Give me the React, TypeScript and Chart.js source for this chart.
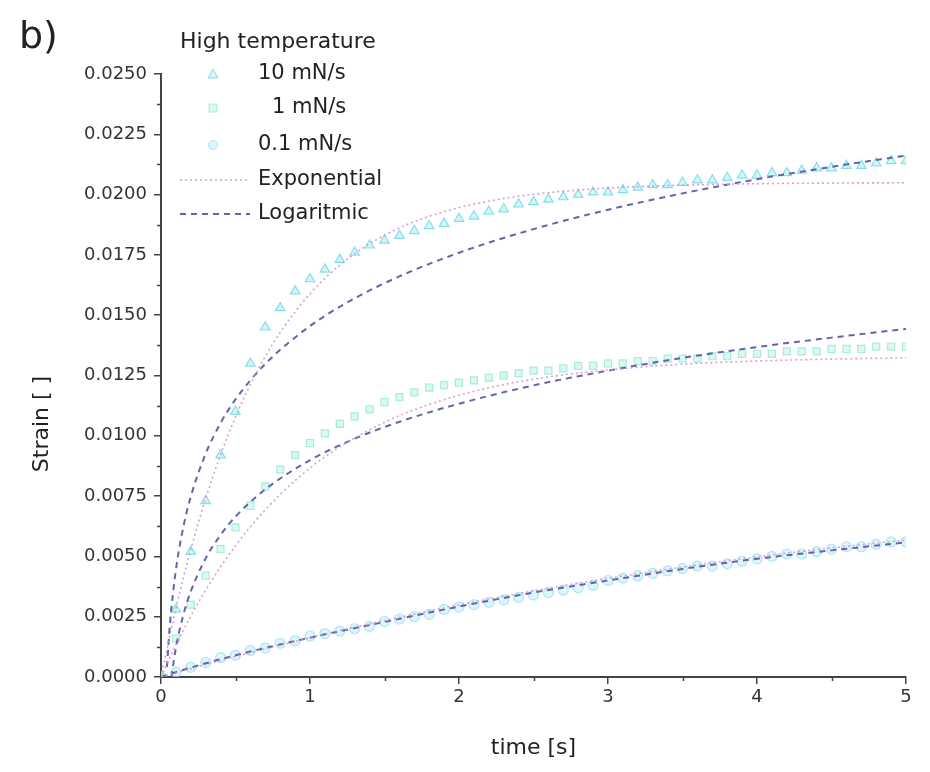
import React, { useEffect, useRef } from "react";
import { Chart, registerables } from "chart.js";

Chart.register(...registerables);

const FONT = "'DejaVu Sans', 'Liberation Sans', sans-serif";

// ---- measured data (time in s, strain) ----
const dataTime = [
  0, 0.1, 0.2, 0.3, 0.4, 0.5, 0.6, 0.7, 0.8, 0.9,
  1.0, 1.1, 1.2, 1.3, 1.4, 1.5, 1.6, 1.7, 1.8, 1.9,
  2.0, 2.1, 2.2, 2.3, 2.4, 2.5, 2.6, 2.7, 2.8, 2.9,
  3.0, 3.1, 3.2, 3.3, 3.4, 3.5, 3.6, 3.7, 3.8, 3.9,
  4.0, 4.1, 4.2, 4.3, 4.4, 4.5, 4.6, 4.7, 4.8, 4.9, 5.0,
];

const strain10 = [
  0.0, 0.0028, 0.0052, 0.0073, 0.0092, 0.011, 0.013, 0.0145, 0.0153, 0.016,
  0.0165, 0.0169, 0.0173, 0.0176, 0.0179, 0.0181, 0.0183, 0.0185, 0.0187, 0.0188,
  0.019, 0.0191, 0.0193, 0.0194, 0.0196, 0.0197, 0.0198, 0.0199, 0.02, 0.0201,
  0.0201, 0.0202, 0.0203, 0.0204, 0.0204, 0.0205, 0.0206, 0.0206, 0.0207, 0.0208,
  0.0208, 0.0209, 0.0209, 0.021, 0.0211, 0.0211, 0.0212, 0.0212, 0.0213, 0.0214, 0.0214,
];

const strain1 = [
  0.0, 0.0016, 0.003, 0.0042, 0.0053, 0.0062, 0.0071, 0.0079, 0.0086, 0.0092,
  0.0097, 0.0101, 0.0105, 0.0108, 0.0111, 0.0114, 0.0116, 0.0118, 0.012, 0.0121,
  0.0122, 0.0123, 0.0124, 0.0125, 0.0126, 0.0127, 0.0127, 0.0128, 0.0129, 0.0129,
  0.013, 0.013, 0.0131, 0.0131, 0.0132, 0.0132, 0.0132, 0.0133, 0.0133, 0.0134,
  0.0134, 0.0134, 0.0135, 0.0135, 0.0135, 0.0136, 0.0136, 0.0136, 0.0137, 0.0137, 0.0137,
];

const strain01 = [
  0.0, 0.0002, 0.0004, 0.0006, 0.0008, 0.0009, 0.0011, 0.0012, 0.0014, 0.0015,
  0.0017, 0.0018, 0.0019, 0.002, 0.0021, 0.0023, 0.0024, 0.0025, 0.0026, 0.0028,
  0.0029, 0.003, 0.0031, 0.0032, 0.0033, 0.0034, 0.0035, 0.0036, 0.0037, 0.0038,
  0.004, 0.0041, 0.0042, 0.0043, 0.0044, 0.0045, 0.0046, 0.0046, 0.0047, 0.0048,
  0.0049, 0.005, 0.0051, 0.0051, 0.0052, 0.0053, 0.0054, 0.0054, 0.0055, 0.0056, 0.0056,
];

// ---- exponential fits (dotted) ----
const expTopTime = [0, 0.1, 0.2, 0.3, 0.4, 0.5, 0.6, 0.7, 0.8, 1.0, 1.2, 1.4, 1.6, 1.8, 2.0, 2.3, 2.6, 3.0, 3.5, 4.0, 4.5, 5.0];
const expTop = [0, 0.00284, 0.00529, 0.0074, 0.00921, 0.01078, 0.01213, 0.01329, 0.01429, 0.01589, 0.01708, 0.01796, 0.01862, 0.0191, 0.01946, 0.01984, 0.02008, 0.02027, 0.02039, 0.02045, 0.02048, 0.02049];

const expMidTime = [0, 0.1, 0.2, 0.3, 0.4, 0.5, 0.6, 0.8, 1.0, 1.2, 1.5, 1.8, 2.2, 2.6, 3.0, 3.5, 4.0, 4.5, 5.0];
const expMid = [0, 0.00133, 0.00253, 0.0036, 0.00457, 0.00544, 0.00623, 0.00757, 0.00866, 0.00954, 0.01056, 0.0113, 0.01199, 0.01244, 0.01273, 0.01297, 0.0131, 0.01318, 0.01323];

const expLowTime = [0, 0.5, 1.0, 1.5, 2.0, 2.5, 3.0, 3.5, 4.0, 4.5, 5.0];
const expLow = [0, 0.00085, 0.00163, 0.00234, 0.00299, 0.00357, 0.00409, 0.00456, 0.00498, 0.00535, 0.00568];

// ---- logarithmic fits (dashed) ----
const logTopTime = [0.04, 0.06, 0.1, 0.15, 0.2, 0.3, 0.4, 0.5, 0.7, 1.0, 1.3, 1.6, 2.0, 2.5, 3.0, 3.5, 4.0, 4.5, 5.0];
const logTop = [0.00042, 0.0022, 0.00444, 0.00622, 0.00748, 0.00926, 0.01053, 0.01151, 0.01298, 0.01455, 0.0157, 0.01661, 0.01759, 0.01857, 0.01937, 0.02005, 0.02064, 0.02115, 0.02162];

const logMidTime = [0.07, 0.1, 0.15, 0.2, 0.3, 0.4, 0.5, 0.7, 1.0, 1.3, 1.6, 2.0, 2.5, 3.0, 3.5, 4.0, 4.5, 5.0];
const logMid = [0.0, 0.00121, 0.00258, 0.00355, 0.00492, 0.00589, 0.00665, 0.00778, 0.00899, 0.00988, 0.01058, 0.01133, 0.01209, 0.0127, 0.01323, 0.01368, 0.01407, 0.01443];

const logLowTime = [0, 0.1, 0.25, 0.5, 1.0, 1.5, 2.0, 2.5, 3.0, 3.5, 4.0, 4.5, 5.0];
const logLow = [0, 0.0002, 0.00048, 0.0009, 0.00163, 0.00228, 0.00292, 0.0035, 0.004, 0.00448, 0.0049, 0.00525, 0.00558];

// ---- axis ticks ----
const yMinorTicks = [0.00125, 0.00375, 0.00625, 0.00875, 0.01125, 0.01375, 0.01625, 0.01875, 0.02125, 0.02375];
const xMinorTicks = [0.5, 1.5, 2.5, 3.5, 4.5];

const legendTitle = "High temperature";
const seriesLabels = ["10 mN/s", "1 mN/s", "0.1 mN/s"];
const fitLabels = ["Exponential", "Logaritmic"];

const COL_10 = "rgba(90, 212, 226, 0.7)";
const COL_1 = "rgba(120, 226, 205, 0.6)";
const COL_01 = "rgba(130, 216, 240, 0.6)";
const FILL_10 = "rgba(170, 236, 244, 0.5)";
const FILL_1 = "rgba(185, 242, 228, 0.5)";
const FILL_01 = "rgba(190, 236, 248, 0.5)";
const COL_EXP = "rgba(212, 150, 205, 0.9)";
const COL_LOG = "rgba(92, 92, 168, 0.95)";
const AXIS = "#444";

const pts = (xs: number[], ys: number[]) => xs.map((x, i) => ({ x, y: ys[i] }));

const decorPlugin = {
  id: "decor",
  afterDraw(chart: any) {
    const { ctx, chartArea, scales } = chart;
    const xs = scales.x;
    const ys = scales.y;
    ctx.save();
    // minor ticks
    ctx.strokeStyle = AXIS;
    ctx.lineWidth = 1.5;
    for (const v of yMinorTicks) {
      const py = Math.round(ys.getPixelForValue(v)) + 0.5;
      ctx.beginPath();
      ctx.moveTo(chartArea.left - 4, py);
      ctx.lineTo(chartArea.left, py);
      ctx.stroke();
    }
    for (const v of xMinorTicks) {
      const px = Math.round(xs.getPixelForValue(v)) + 0.5;
      ctx.beginPath();
      ctx.moveTo(px, chartArea.bottom);
      ctx.lineTo(px, chartArea.bottom + 4);
      ctx.stroke();
    }

    // panel letter
    ctx.fillStyle = "#222";
    ctx.font = `38px ${FONT}`;
    ctx.textAlign = "left";
    ctx.textBaseline = "alphabetic";
    ctx.fillText("b)", 11, 40);

    // y axis title
    ctx.save();
    ctx.translate(34, 416);
    ctx.rotate(-Math.PI / 2);
    ctx.textAlign = "center";
    ctx.textBaseline = "middle";
    ctx.font = `22px ${FONT}`;
    ctx.fillStyle = "#222";
    ctx.fillText("Strain [ ]", 0, 0);
    ctx.restore();

    // legend
    ctx.textAlign = "left";
    ctx.textBaseline = "middle";
    ctx.fillStyle = "#222";
    ctx.font = `22px ${FONT}`;
    ctx.fillText(legendTitle, 172, 34);
    ctx.font = `21px ${FONT}`;

    const mx = 205;
    // triangle
    ctx.lineWidth = 1;
    ctx.strokeStyle = COL_10;
    ctx.fillStyle = FILL_10;
    ctx.beginPath();
    ctx.moveTo(mx, 66 - 5);
    ctx.lineTo(mx + 5, 66 + 4);
    ctx.lineTo(mx - 5, 66 + 4);
    ctx.closePath();
    ctx.fill();
    ctx.stroke();
    // rect
    ctx.strokeStyle = COL_1;
    ctx.fillStyle = FILL_1;
    ctx.beginPath();
    ctx.rect(mx - 4, 100 - 4, 8, 8);
    ctx.fill();
    ctx.stroke();
    // circle
    ctx.strokeStyle = COL_01;
    ctx.fillStyle = FILL_01;
    ctx.beginPath();
    ctx.arc(mx, 137, 4.5, 0, Math.PI * 2);
    ctx.fill();
    ctx.stroke();
    // dotted
    ctx.strokeStyle = COL_EXP;
    ctx.lineWidth = 1.6;
    ctx.setLineDash([2, 3]);
    ctx.beginPath();
    ctx.moveTo(172, 172);
    ctx.lineTo(242, 172);
    ctx.stroke();
    // dashed
    ctx.strokeStyle = COL_LOG;
    ctx.lineWidth = 2;
    ctx.setLineDash([6, 5]);
    ctx.beginPath();
    ctx.moveTo(172, 206);
    ctx.lineTo(242, 206);
    ctx.stroke();
    ctx.setLineDash([]);

    ctx.fillStyle = "#222";
    ctx.fillText(seriesLabels[0], 250, 66);
    ctx.fillText(seriesLabels[1], 264, 100);
    ctx.fillText(seriesLabels[2], 250, 137);
    ctx.fillText(fitLabels[0], 250, 172);
    ctx.fillText(fitLabels[1], 250, 206);
    ctx.restore();
  },
};

const fitLine = (data: any, color: string, dash: number[], width: number, label: string) => ({
  type: "line" as const,
  label,
  data,
  borderColor: color,
  backgroundColor: color,
  borderDash: dash,
  borderWidth: width,
  pointRadius: 0,
  fill: false,
  cubicInterpolationMode: "monotone" as const,
  order: 0,
});

const scatter = (data: any, style: string, border: string, fill: string, label: string, r: number) => ({
  type: "line" as const,
  label,
  data,
  showLine: false,
  pointStyle: style,
  pointRadius: r,
  pointBorderWidth: 1.2,
  borderColor: border,
  backgroundColor: fill,
  pointBorderColor: border,
  pointBackgroundColor: fill,
  order: 2,
});

export default function App() {
  const ref = useRef<HTMLCanvasElement | null>(null);

  useEffect(() => {
    if (!ref.current) return;
    const chart = new Chart(ref.current, {
      type: "line",
      data: {
        datasets: [
          scatter(pts(dataTime, strain10), "triangle", COL_10, FILL_10, seriesLabels[0], 5.5),
          scatter(pts(dataTime, strain1), "rect", COL_1, FILL_1, seriesLabels[1], 5),
          scatter(pts(dataTime, strain01), "circle", COL_01, FILL_01, seriesLabels[2], 5),
          fitLine(pts(expTopTime, expTop), COL_EXP, [2, 3], 1.6, fitLabels[0]),
          fitLine(pts(expMidTime, expMid), COL_EXP, [2, 3], 1.6, fitLabels[0]),
          fitLine(pts(expLowTime, expLow), COL_EXP, [2, 3], 1.6, fitLabels[0]),
          fitLine(pts(logTopTime, logTop), COL_LOG, [6, 5], 2, fitLabels[1]),
          fitLine(pts(logMidTime, logMid), COL_LOG, [6, 5], 2, fitLabels[1]),
          fitLine(pts(logLowTime, logLow), COL_LOG, [6, 5], 2, fitLabels[1]),
        ] as any,
      },
      options: {
        animation: false,
        responsive: false,
        maintainAspectRatio: false,
        layout: { padding: { top: 66, right: 16, bottom: 0, left: 0 } },
        plugins: {
          legend: { display: false },
          tooltip: { enabled: false },
        },
        scales: {
          x: {
            type: "linear",
            min: 0,
            max: 5,
            ticks: {
              stepSize: 1,
              font: { family: FONT, size: 18 },
              color: "#333",
              padding: 3,
              maxRotation: 0,
            },
            grid: { drawOnChartArea: false, drawTicks: true, tickLength: 7, color: AXIS, lineWidth: 1.5 },
            border: { display: true, color: AXIS, width: 2 },
            title: {
              display: true,
              text: "time [s]",
              font: { family: FONT, size: 22 },
              color: "#222",
              padding: { top: 0, bottom: 3 },
            },
            afterFit(s: any) {
              s.height = 87;
              s.paddingLeft = 0;
              s.paddingRight = 0;
            },
          },
          y: {
            type: "linear",
            min: 0,
            max: 0.025,
            ticks: {
              stepSize: 0.0025,
              font: { family: FONT, size: 18 },
              color: "#333",
              padding: 7,
              callback: (v: any) => Number(v).toFixed(4),
            },
            grid: { drawOnChartArea: false, drawTicks: true, tickLength: 7, color: AXIS, lineWidth: 1.5 },
            border: { display: true, color: AXIS, width: 2 },
            afterFit(s: any) {
              s.width = 153;
              s.paddingTop = 0;
              s.paddingBottom = 0;
            },
          },
        },
      } as any,
      plugins: [decorPlugin],
    });
    return () => chart.destroy();
  }, []);

  return (
    <div style={{ width: 914, height: 756, background: "#fff" }}>
      <canvas ref={ref} width={914} height={756} style={{ display: "block" }} />
    </div>
  );
}
